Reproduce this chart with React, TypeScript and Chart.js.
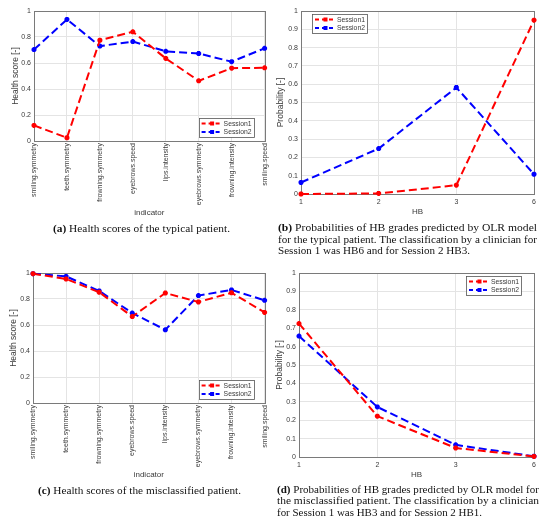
import React, { useEffect, useRef } from 'react';
import { Chart, registerables } from 'chart.js';
Chart.register(...registerables);

// ---------- data ----------
const indicators = [
  'smiling.symmetry',
  'teeth.symmetry',
  'frowning.symmetry',
  'eyebrows.speed',
  'lips.intensity',
  'eyebrows.symmetry',
  'frowning.intensity',
  'smiling.speed',
];
const hbGrades = ['1', '2', '3', '6'];

const typicalScoreS1 = [0.12, 0.025, 0.775, 0.84, 0.635, 0.463, 0.56, 0.563];
const typicalScoreS2 = [0.703, 0.935, 0.73, 0.765, 0.69, 0.673, 0.61, 0.713];

const typicalProbS1 = [0.0, 0.003, 0.048, 0.95];
const typicalProbS2 = [0.063, 0.248, 0.582, 0.108];

const misScoreS1 = [0.995, 0.954, 0.852, 0.665, 0.846, 0.777, 0.848, 0.697];
const misScoreS2 = [0.995, 0.974, 0.862, 0.692, 0.563, 0.826, 0.87, 0.79];

const misProbS1 = [0.725, 0.222, 0.049, 0.003];
const misProbS2 = [0.657, 0.272, 0.066, 0.004];

const seriesNames = ['Session1', 'Session2'];

// ---------- styles ----------
const RED = '#ff0000';
const BLUE = '#0000ff';
const GRID = '#e4e4e4';
const AXIS = '#7a7a7a';
const TEXT = '#3a3a3a';
const SANS = '"Liberation Sans", Arial, sans-serif';
const SERIF = '"Liberation Serif", "Times New Roman", serif';

const framePlugin = {
  id: 'frameBox',
  beforeDatasetsDraw(chart: any) {
    const { ctx, chartArea: a } = chart;
    ctx.save();
    ctx.strokeStyle = AXIS;
    ctx.lineWidth = 1;
    ctx.strokeRect(Math.round(a.left) + 0.5, Math.round(a.top) + 0.5, Math.round(a.right - a.left), Math.round(a.bottom - a.top));
    ctx.restore();
  },
};

const legendPlugin = {
  id: 'boxLegend',
  afterDraw(chart: any, _args: any, opts: any) {
    if (!opts || !opts.corner) return;
    const { ctx, chartArea: a } = chart;
    const w = 55;
    const h = 19;
    let x = 0;
    let y = 0;
    if (opts.corner === 'br') { x = a.right - opts.dx - w; y = a.bottom - opts.dy - h; }
    if (opts.corner === 'tl') { x = a.left + opts.dx; y = a.top + opts.dy; }
    if (opts.corner === 'tr') { x = a.right - opts.dx - w; y = a.top + opts.dy; }
    ctx.save();
    ctx.fillStyle = '#ffffff';
    ctx.fillRect(x, y, w, h);
    ctx.strokeStyle = '#555';
    ctx.lineWidth = 0.8;
    ctx.strokeRect(Math.round(x) + 0.5, Math.round(y) + 0.5, w, h);
    chart.data.datasets.forEach((ds: any, i: number) => {
      const ry = y + 5.5 + i * 8.5;
      ctx.strokeStyle = ds.borderColor;
      ctx.lineWidth = 2;
      ctx.setLineDash([4, 3]);
      ctx.beginPath();
      ctx.moveTo(x + 3, ry);
      ctx.lineTo(x + 23, ry);
      ctx.stroke();
      ctx.setLineDash([]);
      ctx.fillStyle = ds.borderColor;
      ctx.fillRect(x + 11.5, ry - 2, 4, 4);
      ctx.fillStyle = TEXT;
      ctx.font = `6.8px ${SANS}`;
      ctx.textBaseline = 'middle';
      ctx.fillText(ds.label, x + 25, ry + 0.5);
    });
    ctx.restore();
  },
};

type PanelCfg = {
  labels: string[];
  s1: number[];
  s2: number[];
  step: number;
  xTitle: string;
  yTitle: string;
  rotate: boolean;
  padTop: number;
  padRight: number;
  yWidth: number;
  xHeight: number;
  yTitlePad: number;
  legend: { corner: string; dx: number; dy: number };
};

function buildConfig(c: PanelCfg): any {
  const mk = (label: string, data: number[], color: string) => ({
    label,
    data,
    borderColor: color,
    backgroundColor: color,
    borderWidth: 2,
    borderDash: [8, 4],
    pointStyle: 'star',
    pointRadius: 2.5,
    pointBorderWidth: 1.8,
    pointBorderColor: color,
    tension: 0,
    clip: false,
  });
  return {
    type: 'line',
    data: {
      labels: c.labels,
      datasets: [mk(seriesNames[0], c.s1, RED), mk(seriesNames[1], c.s2, BLUE)],
    },
    options: {
      animation: false,
      responsive: false,
      maintainAspectRatio: false,
      events: [],
      layout: { padding: { top: c.padTop, right: c.padRight, left: 0, bottom: 0 } },
      plugins: {
        legend: { display: false },
        tooltip: { enabled: false },
        boxLegend: c.legend,
      },
      scales: {
        x: {
          type: 'category',
          offset: false,
          grid: { color: GRID, drawTicks: false },
          border: { color: AXIS },
          ticks: {
            autoSkip: false,
            color: TEXT,
            font: { family: SANS, size: 7 },
            padding: c.rotate ? 2 : 4,
            minRotation: c.rotate ? 90 : 0,
            maxRotation: c.rotate ? 90 : 0,
          },
          title: {
            display: true,
            text: c.xTitle,
            color: TEXT,
            font: { family: SANS, size: 8 },
            padding: { top: 0, bottom: 0 },
          },
          afterFit: (s: any) => { s.height = c.xHeight; },
        },
        y: {
          min: 0,
          max: 1,
          grid: { color: GRID, drawTicks: false },
          border: { color: AXIS },
          ticks: {
            stepSize: c.step,
            color: TEXT,
            font: { family: SANS, size: 7 },
            padding: 3,
            callback: (v: any) => String(Math.round(Number(v) * 10) / 10),
          },
          title: {
            display: true,
            text: c.yTitle,
            color: TEXT,
            font: { family: SANS, size: 8.5 },
            padding: { top: c.yTitlePad, bottom: 0 },
          },
          afterFit: (s: any) => { s.width = c.yWidth; },
        },
      },
    },
    plugins: [framePlugin, legendPlugin],
  };
}

function Panel(props: { left: number; top: number; width: number; height: number; cfg: PanelCfg }) {
  const ref = useRef<HTMLCanvasElement>(null);
  useEffect(() => {
    if (!ref.current) return;
    const chart = new Chart(ref.current, buildConfig(props.cfg));
    return () => chart.destroy();
  }, []);
  return (
    <div style={{ position: 'absolute', left: props.left, top: props.top, width: props.width, height: props.height }}>
      <canvas ref={ref} width={props.width} height={props.height} style={{ width: props.width, height: props.height }} />
    </div>
  );
}

const captionStyle = { fontFamily: SERIF, fontSize: 10.5, fill: '#111' } as any;

function Captions() {
  return (
    <svg width={550} height={526} style={{ position: 'absolute', left: 0, top: 0, pointerEvents: 'none' }}>
      <text x={53} y={231.5} textLength={177} lengthAdjust="spacingAndGlyphs" style={captionStyle}>
        <tspan fontWeight="bold">(a)</tspan> Health scores of the typical patient.
      </text>
      <text x={278} y={231} textLength={259} lengthAdjust="spacingAndGlyphs" style={captionStyle}>
        <tspan fontWeight="bold">(b)</tspan> Probabilities of HB grades predicted by OLR model
      </text>
      <text x={278} y={242.5} textLength={259} lengthAdjust="spacingAndGlyphs" style={captionStyle}>
        for the typical patient. The classification by a clinician for
      </text>
      <text x={278} y={254} textLength={192} lengthAdjust="spacingAndGlyphs" style={captionStyle}>
        Session 1 was HB6 and for Session 2 HB3.
      </text>
      <text x={38} y={493.5} textLength={203} lengthAdjust="spacingAndGlyphs" style={captionStyle}>
        <tspan fontWeight="bold">(c)</tspan> Health scores of the misclassified patient.
      </text>
      <text x={277} y={492.5} textLength={262} lengthAdjust="spacingAndGlyphs" style={captionStyle}>
        <tspan fontWeight="bold">(d)</tspan> Probabilities of HB grades predicted by OLR model for
      </text>
      <text x={277} y={504} textLength={262} lengthAdjust="spacingAndGlyphs" style={captionStyle}>
        the misclassified patient. The classification by a clinician
      </text>
      <text x={277} y={515.5} textLength={205} lengthAdjust="spacingAndGlyphs" style={captionStyle}>
        for Session 1 was HB3 and for Session 2 HB1.
      </text>
    </svg>
  );
}

export default function App() {
  return (
    <div style={{ position: 'absolute', left: 0, top: 0, width: 550, height: 526, background: '#fff', overflow: 'hidden' }}>
      <Panel
        left={0}
        top={0}
        width={275}
        height={218}
        cfg={{
          labels: indicators, s1: typicalScoreS1, s2: typicalScoreS2, step: 0.2,
          xTitle: 'indicator', yTitle: 'Health score [-]', rotate: true,
          padTop: 11, padRight: 9, yWidth: 34, xHeight: 77, yTitlePad: 11,
          legend: { corner: 'br', dx: 11, dy: 4 },
        }}
      />
      <Panel
        left={275}
        top={0}
        width={275}
        height={217}
        cfg={{
          labels: hbGrades, s1: typicalProbS1, s2: typicalProbS2, step: 0.1,
          xTitle: 'HB', yTitle: 'Probability [-]', rotate: false,
          padTop: 11, padRight: 16, yWidth: 26, xHeight: 23, yTitlePad: 1,
          legend: { corner: 'tl', dx: 11, dy: 3 },
        }}
      />
      <Panel
        left={0}
        top={260}
        width={275}
        height={220}
        cfg={{
          labels: indicators, s1: misScoreS1, s2: misScoreS2, step: 0.2,
          xTitle: 'indicator', yTitle: 'Health score [-]', rotate: true,
          padTop: 13, padRight: 10, yWidth: 33, xHeight: 77, yTitlePad: 9,
          legend: { corner: 'br', dx: 11, dy: 4 },
        }}
      />
      <Panel
        left={275}
        top={260}
        width={275}
        height={220}
        cfg={{
          labels: hbGrades, s1: misProbS1, s2: misProbS2, step: 0.1,
          xTitle: 'HB', yTitle: 'Probability [-]', rotate: false,
          padTop: 13, padRight: 16, yWidth: 24, xHeight: 23, yTitlePad: 0,
          legend: { corner: 'tr', dx: 13, dy: 3 },
        }}
      />
      <Captions />
    </div>
  );
}
